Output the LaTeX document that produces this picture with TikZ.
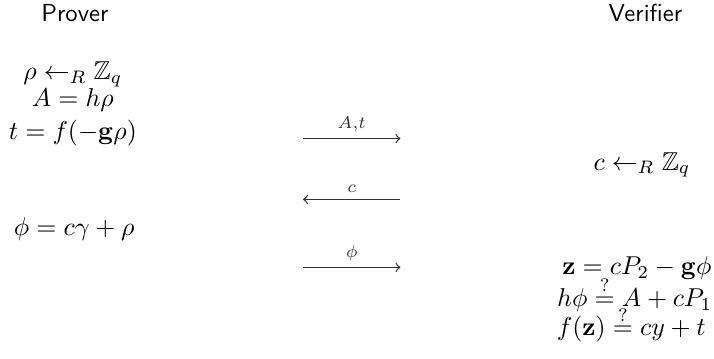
\RequirePackage{fix-cm}
\documentclass[tikz,border=0pt]{standalone}
\usepackage{amsmath,amssymb}
\begin{document}
\begin{tikzpicture}[declare function={W=10.2; H=5.12; xl=4.33; xr=5.72; xp=1.04; xv=9.17;},
	every node/.style={font=\fontsize{10.5}{12.5}\selectfont,inner sep=0pt},
	party/.style={font=\sffamily\normalsize},
	msg/.style={line width=0.5pt,black!80},
	msglabel/.style={font=\scriptsize,above,inner sep=2.5pt}]
	\useasboundingbox (0,0) rectangle (W,H);
	% parties
	\node[party] (prover) at (1.07,4.93) {Prover};
	\node[party] (verifier) at (9.22,4.93) {Verifier};
	% prover side
	\node[anchor=base] (rho) at (xp,3.98) {$\rho \leftarrow_R \mathbb{Z}_q$};
	\node[anchor=base] (comA) at (xp,3.60) {$A = h\rho$};
	\node[anchor=base] (comT) at (xp,3.13) {$t = f(-\mathbf{g}\rho)$};
	\node[anchor=base] (resp) at (xp+0.02,1.76) {$\phi = c\gamma + \rho$};
	% verifier side
	\node[anchor=base] (chal) at (xv,2.69) {$c \leftarrow_R \mathbb{Z}_q$};
	\node[anchor=base east] (zvec) at (10.17,1.20) {$\mathbf{z} = cP_2 - \mathbf{g}\phi$};
	\node[anchor=base east] (chkA) at (10.18,0.74) {$h\phi \stackrel{?}{=} A + cP_1$};
	\node[anchor=base east] (chkT) at (10.09,0.32) {$f(\mathbf{z}) \stackrel{?}{=} cy + t$};
	% messages
	\foreach \n/\y/\lab/\dir in {at/3.14/{A{,}t}/->, c/2.27/c/<-, phi/1.30/\phi/->}{
		\coordinate (\n-l) at (xl,\y);
		\coordinate (\n-r) at (xr,\y);
		\draw[msg,\dir] (\n-l) -- node[msglabel] (\n-lab) {$\lab$} (\n-r);
	}
\end{tikzpicture}
\end{document}
